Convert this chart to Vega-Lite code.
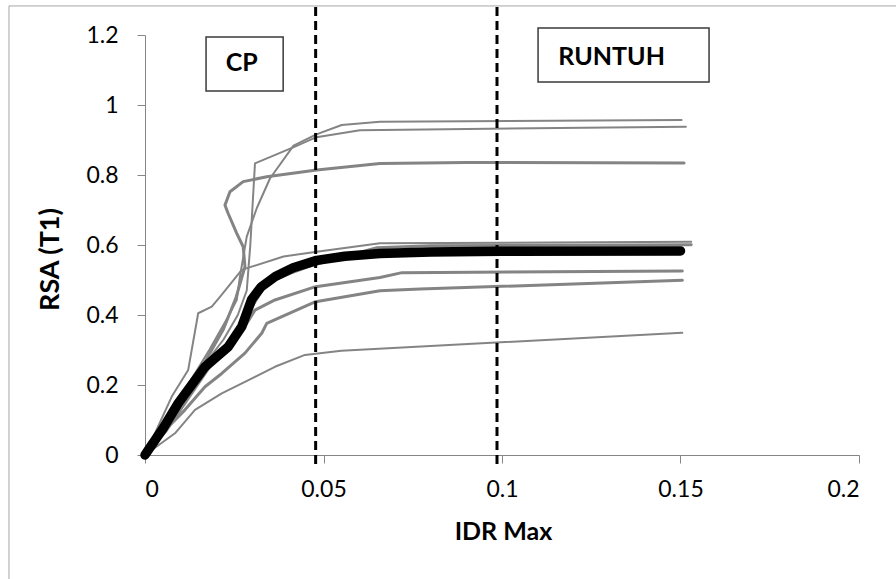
{
  "$schema": "https://vega.github.io/schema/vega-lite/v6.json",
  "width": 714,
  "height": 420,
  "autosize": {"type": "none"},
  "padding": {"left": 145, "top": 35, "right": 37, "bottom": 124},
  "background": "white",
  "config": {
    "view": {"stroke": null},
    "font": "Lato",
    "axis": {
      "grid": false,
      "domainColor": "#868686",
      "domainWidth": 1,
      "tickColor": "#868686",
      "tickSize": 8,
      "labelFont": "Lato",
      "labelFontSize": 23,
      "labelColor": "#000000",
      "titleFont": "Lato",
      "titleFontSize": 25,
      "titleFontWeight": "bold",
      "titleColor": "#000000"
    }
  },
  "datasets": {
    "curves": [
      {"series": "c1", "i": 0, "x": 0, "y": 0},
      {"series": "c1", "i": 1, "x": 0.006, "y": 0.09},
      {"series": "c1", "i": 2, "x": 0.012, "y": 0.2},
      {"series": "c1", "i": 3, "x": 0.018, "y": 0.3},
      {"series": "c1", "i": 4, "x": 0.023, "y": 0.39},
      {"series": "c1", "i": 5, "x": 0.0257, "y": 0.443},
      {"series": "c1", "i": 6, "x": 0.0266, "y": 0.51},
      {"series": "c1", "i": 7, "x": 0.0285, "y": 0.624},
      {"series": "c1", "i": 8, "x": 0.0313, "y": 0.705},
      {"series": "c1", "i": 9, "x": 0.035, "y": 0.79},
      {"series": "c1", "i": 10, "x": 0.0416, "y": 0.884},
      {"series": "c1", "i": 11, "x": 0.048, "y": 0.916},
      {"series": "c1", "i": 12, "x": 0.0551, "y": 0.943},
      {"series": "c1", "i": 13, "x": 0.0658, "y": 0.952},
      {"series": "c1", "i": 14, "x": 0.1503, "y": 0.957},

      {"series": "c2", "i": 0, "x": 0, "y": 0},
      {"series": "c2", "i": 1, "x": 0.009, "y": 0.15},
      {"series": "c2", "i": 2, "x": 0.016, "y": 0.25},
      {"series": "c2", "i": 3, "x": 0.022, "y": 0.33},
      {"series": "c2", "i": 4, "x": 0.026, "y": 0.4},
      {"series": "c2", "i": 5, "x": 0.0285, "y": 0.47},
      {"series": "c2", "i": 6, "x": 0.0295, "y": 0.6},
      {"series": "c2", "i": 7, "x": 0.0308, "y": 0.833},
      {"series": "c2", "i": 8, "x": 0.042, "y": 0.881},
      {"series": "c2", "i": 9, "x": 0.048, "y": 0.908},
      {"series": "c2", "i": 10, "x": 0.0602, "y": 0.928},
      {"series": "c2", "i": 11, "x": 0.1515, "y": 0.938},

      {"series": "c3", "i": 0, "x": 0, "y": 0},
      {"series": "c3", "i": 1, "x": 0.004, "y": 0.06},
      {"series": "c3", "i": 2, "x": 0.01, "y": 0.16},
      {"series": "c3", "i": 3, "x": 0.017, "y": 0.27},
      {"series": "c3", "i": 4, "x": 0.022, "y": 0.36},
      {"series": "c3", "i": 5, "x": 0.0255, "y": 0.45},
      {"series": "c3", "i": 6, "x": 0.028, "y": 0.538},
      {"series": "c3", "i": 7, "x": 0.0275, "y": 0.595},
      {"series": "c3", "i": 8, "x": 0.0257, "y": 0.633},
      {"series": "c3", "i": 9, "x": 0.0233, "y": 0.69},
      {"series": "c3", "i": 10, "x": 0.0224, "y": 0.714},
      {"series": "c3", "i": 11, "x": 0.0238, "y": 0.752},
      {"series": "c3", "i": 12, "x": 0.0275, "y": 0.781},
      {"series": "c3", "i": 13, "x": 0.0341, "y": 0.795},
      {"series": "c3", "i": 14, "x": 0.0481, "y": 0.814},
      {"series": "c3", "i": 15, "x": 0.0658, "y": 0.833},
      {"series": "c3", "i": 16, "x": 0.09, "y": 0.836},
      {"series": "c3", "i": 17, "x": 0.151, "y": 0.834},

      {"series": "c4", "i": 0, "x": 0, "y": 0},
      {"series": "c4", "i": 1, "x": 0.0075, "y": 0.167},
      {"series": "c4", "i": 2, "x": 0.0121, "y": 0.243},
      {"series": "c4", "i": 3, "x": 0.0149, "y": 0.405},
      {"series": "c4", "i": 4, "x": 0.0187, "y": 0.424},
      {"series": "c4", "i": 5, "x": 0.021, "y": 0.452},
      {"series": "c4", "i": 6, "x": 0.0271, "y": 0.529},
      {"series": "c4", "i": 7, "x": 0.0388, "y": 0.567},
      {"series": "c4", "i": 8, "x": 0.0481, "y": 0.581},
      {"series": "c4", "i": 9, "x": 0.0658, "y": 0.605},
      {"series": "c4", "i": 10, "x": 0.153, "y": 0.609},

      {"series": "c5", "i": 0, "x": 0, "y": 0},
      {"series": "c5", "i": 1, "x": 0.006, "y": 0.07},
      {"series": "c5", "i": 2, "x": 0.012, "y": 0.16},
      {"series": "c5", "i": 3, "x": 0.018, "y": 0.25},
      {"series": "c5", "i": 4, "x": 0.024, "y": 0.33},
      {"series": "c5", "i": 5, "x": 0.0285, "y": 0.4},
      {"series": "c5", "i": 6, "x": 0.0341, "y": 0.49},
      {"series": "c5", "i": 7, "x": 0.0406, "y": 0.519},
      {"series": "c5", "i": 8, "x": 0.0462, "y": 0.54},
      {"series": "c5", "i": 9, "x": 0.055, "y": 0.565},
      {"series": "c5", "i": 10, "x": 0.065, "y": 0.592},
      {"series": "c5", "i": 11, "x": 0.08, "y": 0.598},
      {"series": "c5", "i": 12, "x": 0.153, "y": 0.601},

      {"series": "c6", "i": 0, "x": 0, "y": 0},
      {"series": "c6", "i": 1, "x": 0.006, "y": 0.075},
      {"series": "c6", "i": 2, "x": 0.012, "y": 0.17},
      {"series": "c6", "i": 3, "x": 0.018, "y": 0.26},
      {"series": "c6", "i": 4, "x": 0.024, "y": 0.33},
      {"series": "c6", "i": 5, "x": 0.028, "y": 0.367},
      {"series": "c6", "i": 6, "x": 0.0308, "y": 0.414},
      {"series": "c6", "i": 7, "x": 0.0364, "y": 0.443},
      {"series": "c6", "i": 8, "x": 0.0478, "y": 0.481},
      {"series": "c6", "i": 9, "x": 0.0658, "y": 0.507},
      {"series": "c6", "i": 10, "x": 0.072, "y": 0.521},
      {"series": "c6", "i": 11, "x": 0.1505, "y": 0.526},

      {"series": "c7", "i": 0, "x": 0, "y": 0},
      {"series": "c7", "i": 1, "x": 0.0056, "y": 0.071},
      {"series": "c7", "i": 2, "x": 0.0112, "y": 0.129},
      {"series": "c7", "i": 3, "x": 0.0168, "y": 0.195},
      {"series": "c7", "i": 4, "x": 0.0215, "y": 0.233},
      {"series": "c7", "i": 5, "x": 0.028, "y": 0.291},
      {"series": "c7", "i": 6, "x": 0.0327, "y": 0.348},
      {"series": "c7", "i": 7, "x": 0.0341, "y": 0.376},
      {"series": "c7", "i": 8, "x": 0.0478, "y": 0.438},
      {"series": "c7", "i": 9, "x": 0.0658, "y": 0.469},
      {"series": "c7", "i": 10, "x": 0.077, "y": 0.474},
      {"series": "c7", "i": 11, "x": 0.1505, "y": 0.499},

      {"series": "c8", "i": 0, "x": 0, "y": 0},
      {"series": "c8", "i": 1, "x": 0.0084, "y": 0.062},
      {"series": "c8", "i": 2, "x": 0.014, "y": 0.129},
      {"series": "c8", "i": 3, "x": 0.0215, "y": 0.176},
      {"series": "c8", "i": 4, "x": 0.028, "y": 0.209},
      {"series": "c8", "i": 5, "x": 0.0364, "y": 0.252},
      {"series": "c8", "i": 6, "x": 0.0448, "y": 0.286},
      {"series": "c8", "i": 7, "x": 0.055, "y": 0.298},
      {"series": "c8", "i": 8, "x": 0.1505, "y": 0.349},

      {"series": "mean", "i": 0, "x": 0, "y": 0},
      {"series": "mean", "i": 1, "x": 0.0009, "y": 0.014},
      {"series": "mean", "i": 2, "x": 0.005, "y": 0.075},
      {"series": "mean", "i": 3, "x": 0.0093, "y": 0.148},
      {"series": "mean", "i": 4, "x": 0.0168, "y": 0.252},
      {"series": "mean", "i": 5, "x": 0.0233, "y": 0.309},
      {"series": "mean", "i": 6, "x": 0.0271, "y": 0.367},
      {"series": "mean", "i": 7, "x": 0.0299, "y": 0.445},
      {"series": "mean", "i": 8, "x": 0.0325, "y": 0.48},
      {"series": "mean", "i": 9, "x": 0.0365, "y": 0.51},
      {"series": "mean", "i": 10, "x": 0.0415, "y": 0.535},
      {"series": "mean", "i": 11, "x": 0.0481, "y": 0.556},
      {"series": "mean", "i": 12, "x": 0.056, "y": 0.568},
      {"series": "mean", "i": 13, "x": 0.0658, "y": 0.576},
      {"series": "mean", "i": 14, "x": 0.08, "y": 0.58},
      {"series": "mean", "i": 15, "x": 0.1, "y": 0.582},
      {"series": "mean", "i": 16, "x": 0.15, "y": 0.583}
    ],
    "limits": [
      {"limit": "CP", "x": 0.0478},
      {"limit": "RUNTUH", "x": 0.0986}
    ],
    "boxes": [
      {"label": "CP"},
      {"label": "RUNTUH"}
    ],
    "frame": [
      {"edge": "chart area"}
    ]
  },
  "layer": [
    {
      "data": {"name": "frame"},
      "layer": [
        {
          "mark": {"type": "rule", "color": "#a6a6a6", "strokeWidth": 1, "clip": false},
          "encoding": {"x": {"datum": -0.0381}, "y": {"datum": -0.36}, "y2": {"datum": 1.283}}
        },
        {
          "mark": {"type": "rule", "color": "#a6a6a6", "strokeWidth": 1, "clip": false},
          "encoding": {"y": {"datum": 1.283}, "x": {"datum": -0.0381}, "x2": {"datum": 0.215}}
        }
      ]
    },
    {
      "data": {"name": "curves"},
      "transform": [{"filter": "indexof(['c1','c2','c4','c8'], datum.series) >= 0"}],
      "mark": {"type": "line", "color": "#848484", "strokeWidth": 2, "strokeJoin": "round", "strokeCap": "round"},
      "encoding": {
        "x": {"field": "x", "type": "quantitative", "scale": {"domain": [0, 0.2]},
          "axis": {"values": [0, 0.05, 0.1, 0.15, 0.2], "format": "~g", "title": "IDR Max", "labelPadding": 15, "titleX": 358, "titleY": 76, "titleBaseline": "middle", "titleAlign": "center"}},
        "y": {"field": "y", "type": "quantitative", "scale": {"domain": [0, 1.2]},
          "axis": {"values": [0, 0.2, 0.4, 0.6, 0.8, 1, 1.2], "format": "~g", "title": "RSA (T1)", "titleFontSize": 27, "labelPadding": 19, "titleX": -95, "titleY": 224, "titleAngle": -90, "titleBaseline": "middle", "titleAlign": "center"}},
        "detail": {"field": "series"},
        "order": {"field": "i", "type": "quantitative"}
      }
    },
    {
      "data": {"name": "curves"},
      "transform": [{"filter": "indexof(['c3','c5','c6','c7'], datum.series) >= 0"}],
      "mark": {"type": "line", "color": "#848484", "strokeWidth": 3, "strokeJoin": "round", "strokeCap": "round"},
      "encoding": {
        "x": {"field": "x", "type": "quantitative"},
        "y": {"field": "y", "type": "quantitative"},
        "detail": {"field": "series"},
        "order": {"field": "i", "type": "quantitative"}
      }
    },
    {
      "data": {"name": "curves"},
      "transform": [{"filter": "datum.series == 'mean'"}],
      "mark": {"type": "line", "color": "#000000", "strokeWidth": 9.5, "strokeJoin": "round", "strokeCap": "round"},
      "encoding": {
        "x": {"field": "x", "type": "quantitative"},
        "y": {"field": "y", "type": "quantitative"},
        "order": {"field": "i", "type": "quantitative"}
      }
    },
    {
      "data": {"name": "limits"},
      "mark": {"type": "rule", "color": "#000000", "strokeWidth": 3, "strokeDash": [9, 5], "clip": false},
      "encoding": {
        "x": {"field": "x", "type": "quantitative"},
        "y": {"datum": -0.026},
        "y2": {"datum": 1.28}
      }
    },
    {
      "data": {"name": "boxes"},
      "transform": [{"filter": "datum.label == 'CP'"}],
      "layer": [
        {
          "mark": {"type": "rect", "fill": "white", "stroke": "#3a3a3a", "strokeWidth": 1.5, "clip": false},
          "encoding": {
            "x": {"datum": 0.0171}, "x2": {"datum": 0.0387},
            "y": {"datum": 1.040}, "y2": {"datum": 1.194}
          }
        },
        {
          "mark": {"type": "text", "font": "Lato", "fontSize": 25, "fontWeight": "bold", "align": "center", "baseline": "middle", "clip": false},
          "encoding": {"text": {"field": "label"}, "x": {"datum": 0.0271}, "y": {"datum": 1.119}}
        }
      ]
    },
    {
      "data": {"name": "boxes"},
      "transform": [{"filter": "datum.label == 'RUNTUH'"}],
      "layer": [
        {
          "mark": {"type": "rect", "fill": "white", "stroke": "#3a3a3a", "strokeWidth": 1.5, "clip": false},
          "encoding": {
            "x": {"datum": 0.1101}, "x2": {"datum": 0.158},
            "y": {"datum": 1.066}, "y2": {"datum": 1.22}
          }
        },
        {
          "mark": {"type": "text", "font": "Lato", "fontSize": 25, "fontWeight": "bold", "align": "center", "baseline": "middle", "clip": false},
          "encoding": {"text": {"field": "label"}, "x": {"datum": 0.1307}, "y": {"datum": 1.136}}
        }
      ]
    }
  ]
}
